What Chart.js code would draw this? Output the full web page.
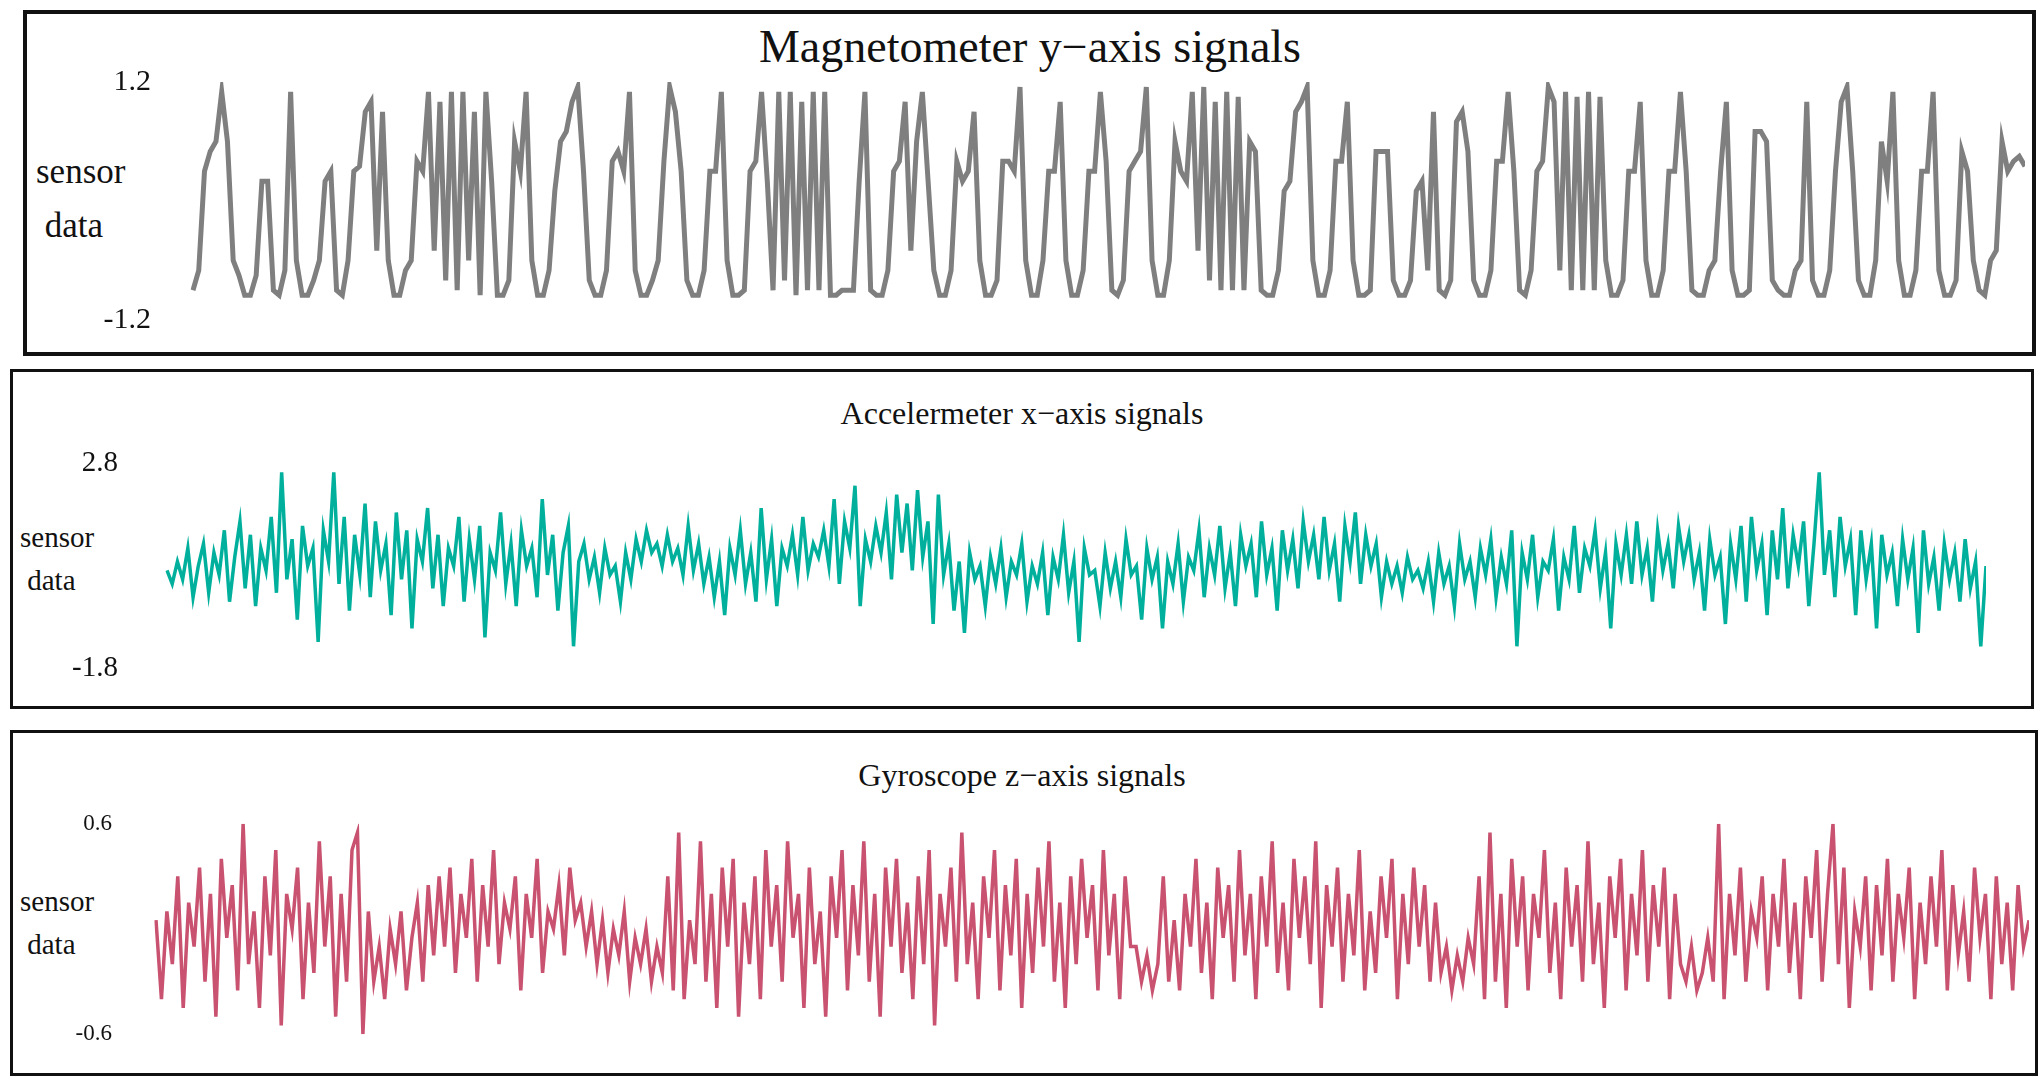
<!DOCTYPE html>
<html>
<head>
<meta charset="utf-8">
<script src="https://cdn.jsdelivr.net/npm/chart.js@4/dist/chart.umd.min.js"></script>
<style>
  body { margin: 0; background: #fff; font-family: 'Liberation Serif', serif; }
  .box { position: absolute; border: 3px solid #111; box-sizing: border-box; }
  .txt { position: absolute; color: #111; white-space: nowrap; }
  .wrap { position: absolute; }
</style>
</head>
<body>
<div class="box" style="left:23px;top:10px;width:2013px;height:346px;border-width:4px"></div>
<div class="box" style="left:10px;top:369px;width:2024px;height:340px"></div>
<div class="box" style="left:10px;top:730px;width:2028px;height:346px"></div>

<div class="txt" style="left:0;width:2060px;text-align:center;top:20px;font-size:46px">Magnetometer y&minus;axis signals</div>
<div class="txt" style="left:0;width:2044px;text-align:center;top:395px;font-size:32px">Accelermeter x&minus;axis signals</div>
<div class="txt" style="left:0;width:2044px;text-align:center;top:757px;font-size:32px">Gyroscope z&minus;axis signals</div>

<div class="txt" style="left:36px;top:145px;font-size:35px;line-height:54px">sensor<br>&nbsp;data</div>
<div class="txt" style="left:20px;top:516px;font-size:29px;line-height:43px">sensor<br>&nbsp;data</div>
<div class="txt" style="left:20px;top:880px;font-size:29px;line-height:43px">sensor<br>&nbsp;data</div>

<div class="wrap" style="left:10px;top:30px;width:2015px;height:342px"><canvas id="c1"></canvas></div>
<div class="wrap" style="left:10px;top:405px;width:1976px;height:322px"><canvas id="c2"></canvas></div>
<div class="wrap" style="left:10px;top:774px;width:2019px;height:310px"><canvas id="c3"></canvas></div>

<script>
// magnetometer y-axis (pulse train)
const magValues = [
-0.9,-0.7,0.3,0.5,0.6,1.1,0.6,-0.6,-0.75,-0.95,-0.95,-0.75,0.2,0.2,-0.9,-0.95,
-0.7,1.1,-0.6,-0.95,-0.95,-0.8,-0.6,0.2,0.3,-0.9,-0.95,-0.6,0.3,0.35,0.9,1.0,-0.5,0.9,-0.6,-0.95,-0.95,
-0.7,-0.6,0.4,0.3,1.1,-0.5,1.0,-0.8,1.1,-0.9,1.1,-0.6,0.9,-0.95,1.1,0.2,-0.95,-0.95,
-0.8,0.6,0.3,1.1,-0.6,-0.95,-0.95,-0.7,0.1,0.6,0.7,1.0,1.15,0.3,-0.8,-0.95,-0.95,
-0.7,0.4,0.5,0.3,1.1,-0.7,-0.95,-0.95,-0.8,-0.6,0.4,1.15,0.9,0.3,-0.8,-0.95,-0.95,
-0.7,0.3,0.3,1.1,-0.6,-0.95,-0.95,-0.9,0.3,0.4,1.1,0.2,-0.9,1.1,-0.8,1.1,-0.95,1.0,-0.9,1.1,-0.9,1.1,-0.95,-0.95,
-0.9,-0.9,-0.9,0.2,1.1,-0.9,-0.95,-0.95,-0.7,0.3,0.4,1.0,-0.5,0.6,1.1,0.2,-0.7,-0.95,-0.95,
-0.7,0.4,0.2,0.3,0.9,-0.6,-0.95,-0.95,-0.8,0.4,0.4,0.3,1.15,-0.6,-0.95,-0.95,
-0.6,0.3,0.3,1.0,-0.6,-0.95,-0.95,-0.7,0.3,0.3,1.1,0.4,-0.9,-0.95,-0.8,0.3,0.4,0.5,1.15,-0.6,-0.95,-0.95,
-0.6,0.6,0.3,0.2,1.1,-0.5,1.15,-0.8,1.0,-0.9,1.1,-0.9,1.05,-0.9,0.6,0.5,-0.9,-0.95,-0.95,
-0.7,0.1,0.2,0.9,1.0,1.15,-0.6,-0.95,-0.95,-0.7,0.4,0.4,1.0,-0.6,-0.95,-0.95,-0.9,0.5,0.5,0.5,-0.8,-0.95,
-0.95,-0.8,0.1,0.2,-0.7,0.9,-0.9,-0.95,-0.8,0.8,0.9,0.5,-0.8,-0.95,-0.95,-0.7,0.4,0.4,1.1,0.3,-0.9,-0.95,
-0.7,0.3,0.4,1.15,1.0,-0.7,1.1,-0.9,1.05,-0.9,1.1,-0.9,1.05,-0.6,-0.95,-0.95,-0.8,0.3,0.3,1.0,-0.6,-0.95,
-0.95,-0.7,0.3,0.3,1.1,0.3,-0.9,-0.95,-0.95,-0.7,-0.6,0.3,1.0,-0.7,-0.95,-0.95,-0.9,0.7,0.7,0.6,-0.8,
-0.9,-0.95,-0.95,-0.7,-0.6,1.0,-0.8,-0.95,-0.95,-0.7,0.3,1.0,1.15,0.3,-0.8,-0.95,-0.95,-0.6,0.6,0.2,1.1,
-0.6,-0.95,-0.95,-0.7,0.3,0.3,1.1,-0.7,-0.95,-0.95,-0.8,0.5,0.3,-0.6,-0.9,-0.95,-0.6,-0.5,0.6,0.3,0.4,0.45,0.35
];

// accelerometer x-axis
const accValues = [
0.4,0.1,0.6,0.2,0.9,-0.2,0.5,1.0,-0.1,0.8,0.3,1.3,-0.3,0.7,1.5,0.0,1.2,-0.4,0.9,0.4,
1.6,-0.1,2.6,0.2,1.1,-0.7,1.4,0.5,0.9,-1.2,1.3,0.6,2.6,0.1,1.6,-0.5,1.2,0.3,1.9,-0.2,
1.5,0.4,1.0,-0.6,1.7,0.2,1.3,-0.9,1.1,0.6,1.8,0.0,1.2,-0.4,0.9,0.5,1.6,-0.3,1.1,0.2,
1.4,-1.1,0.8,0.4,1.7,0.1,1.0,-0.4,1.3,0.5,0.9,-0.2,2.0,0.3,1.2,-0.5,0.8,1.4,-1.3,0.6,
1.0,0.2,0.7,-0.1,0.9,0.3,0.5,-0.3,0.8,0.2,1.1,0.6,1.3,0.8,1.0,0.5,1.2,0.6,0.9,0.3,
1.4,0.4,1.0,0.1,0.7,-0.2,0.6,-0.6,0.9,0.3,1.3,0.1,0.8,-0.3,1.8,0.2,1.1,-0.4,0.9,0.5,
1.2,0.3,1.6,0.4,1.0,0.7,1.3,0.5,2.0,0.1,1.5,0.9,2.3,-0.4,1.1,0.6,1.4,0.8,1.7,0.2,
2.1,0.8,1.9,0.4,2.2,0.7,1.5,-0.8,2.1,0.3,1.0,-0.5,0.6,-1.0,0.8,0.2,0.5,-0.4,0.7,0.1,
0.9,-0.2,0.6,0.3,1.0,-0.3,0.5,0.1,0.8,-0.6,0.7,0.2,1.2,-0.1,0.6,-1.2,0.9,0.3,0.4,-0.4,
0.8,0.0,0.6,-0.2,1.1,0.3,0.5,-0.7,0.9,0.2,0.7,-0.9,0.6,0.1,1.0,-0.3,0.7,0.4,1.3,-0.2,
0.9,0.3,1.4,0.0,0.8,-0.4,1.2,0.5,1.0,-0.2,1.5,0.3,0.9,-0.5,1.3,0.4,1.1,0.0,1.5,0.6,
1.2,0.2,1.6,0.4,1.0,-0.3,1.4,0.6,1.7,0.1,1.2,0.5,1.0,-0.2,0.6,0.1,0.5,-0.1,0.7,0.2,
0.4,0.0,0.6,-0.3,0.8,0.1,0.5,-0.4,1.0,0.2,0.6,-0.2,0.9,0.3,1.1,-0.2,0.7,0.1,1.3,-1.3,
0.8,0.2,1.2,-0.2,0.6,0.4,1.1,-0.5,0.7,0.2,1.4,-0.1,0.9,0.5,1.3,0.0,0.8,-0.9,1.0,0.3,
1.2,0.1,1.5,0.3,0.9,-0.3,1.3,0.4,1.0,0.0,1.4,0.6,1.2,0.2,0.8,-0.5,1.1,0.3,0.7,-0.8,
1.0,0.2,1.4,-0.3,1.6,0.4,1.0,-0.6,1.3,0.2,1.8,0.0,1.2,0.5,1.5,-0.4,1.0,2.6,0.3,1.3,
-0.2,1.6,0.5,1.1,-0.6,1.3,0.2,1.0,-0.9,1.2,0.3,0.8,-0.4,1.1,0.2,0.9,-1.0,1.3,0.1,0.7,
-0.5,1.0,0.2,0.8,-0.3,1.1,0.0,0.6,-1.3,0.5
];

// gyroscope z-axis
const gyroValues = [
0.05,-0.4,0.1,-0.2,0.3,-0.45,0.15,-0.1,0.35,-0.3,0.2,-0.5,0.4,-0.05,0.25,-0.35,0.6,-0.2,0.1,-0.45,
0.3,-0.15,0.45,-0.55,0.2,0.0,0.35,-0.4,0.15,-0.25,0.5,-0.1,0.3,-0.5,0.2,-0.3,0.45,0.55,-0.6,0.1,
-0.3,-0.1,-0.4,0.0,-0.2,0.1,-0.35,-0.05,0.15,-0.3,0.25,-0.15,0.3,-0.1,0.35,-0.25,0.2,-0.05,0.4,-0.3,
0.25,-0.1,0.45,-0.2,0.15,0.0,0.3,-0.35,0.2,-0.05,0.4,-0.25,0.1,0.0,0.25,-0.15,0.35,0.05,0.15,-0.1,
0.1,-0.2,0.05,-0.25,0.0,-0.15,0.1,-0.3,-0.05,-0.2,0.0,-0.3,-0.1,-0.25,0.3,-0.35,0.55,-0.4,0.05,-0.2,
0.5,-0.3,0.2,-0.45,0.35,-0.1,0.4,-0.5,0.15,-0.2,0.3,-0.4,0.45,-0.1,0.25,-0.3,0.5,-0.05,0.2,-0.45,
0.35,-0.2,0.1,-0.5,0.3,-0.05,0.45,-0.35,0.25,-0.15,0.5,-0.3,0.2,-0.5,0.35,-0.1,0.4,-0.25,0.15,-0.4,
0.3,-0.2,0.45,-0.55,0.2,-0.1,0.35,-0.3,0.55,-0.2,0.15,-0.4,0.3,-0.05,0.45,-0.35,0.25,-0.15,0.4,-0.45,
0.2,-0.25,0.35,-0.1,0.5,-0.3,0.15,-0.45,0.3,-0.2,0.4,-0.05,0.25,-0.35,0.45,-0.15,0.2,-0.4,0.3,-0.1,
-0.1,-0.3,-0.15,-0.35,-0.2,0.3,-0.3,0.05,-0.35,0.2,-0.1,0.4,-0.25,0.15,-0.4,0.35,-0.05,0.25,-0.3,0.45,
-0.15,0.2,-0.4,0.3,-0.1,0.5,-0.25,0.15,-0.35,0.4,-0.05,0.3,-0.2,0.5,-0.45,0.25,-0.1,0.35,-0.3,0.2,
-0.15,0.45,-0.35,0.1,-0.25,0.3,-0.05,0.4,-0.4,0.2,-0.2,0.35,-0.1,0.25,-0.3,0.15,-0.25,-0.1,-0.35,-0.15,
-0.3,-0.05,-0.2,0.3,-0.4,0.55,-0.3,0.2,-0.45,0.4,-0.1,0.3,-0.35,0.2,-0.05,0.45,-0.25,0.15,-0.4,0.35,
-0.1,0.25,-0.3,0.5,-0.2,0.15,-0.45,0.3,-0.05,0.4,-0.35,0.2,-0.15,0.45,-0.3,0.25,-0.1,0.35,-0.4,0.2,
-0.2,-0.3,-0.1,-0.35,-0.25,-0.05,-0.3,0.6,-0.4,0.2,-0.15,0.35,-0.3,0.1,-0.05,0.3,-0.35,0.2,-0.1,0.4,
-0.25,0.15,-0.4,0.3,-0.05,0.45,-0.3,0.2,0.6,-0.2,0.35,-0.45,0.1,-0.1,0.3,-0.35,0.25,-0.15,0.4,-0.3,
0.2,-0.05,0.35,-0.4,0.15,-0.2,0.3,-0.1,0.45,-0.35,0.25,-0.15,0.1,-0.3,0.35,-0.05,0.2,-0.4,0.3,-0.2,
0.15,-0.35,0.25,-0.1,0.05
];

function panel(id, values, min, max, color, lw, tickPad, axisW, fontSize) {
  new Chart(document.getElementById(id), {
    type: 'line',
    data: {
      labels: values.map((v, i) => i),
      datasets: [{ data: values, borderColor: color, borderWidth: lw, pointRadius: 0, tension: 0, fill: false }]
    },
    options: {
      responsive: true,
      maintainAspectRatio: false,
      animation: false,
      layout: { padding: 0 },
      plugins: { legend: { display: false }, tooltip: { enabled: false } },
      scales: {
        x: { display: false },
        y: {
          min: min, max: max,
          grid: { display: false }, border: { display: false },
          afterBuildTicks: (s) => { s.ticks = [{ value: min }, { value: max }]; },
          afterFit: (s) => { s.width = axisW; },
          ticks: {
            padding: tickPad, color: '#111',
            font: { family: 'Liberation Serif', size: fontSize },
            callback: (v) => v.toFixed(1)
          }
        }
      }
    }
  });
}

panel('c1', magValues, -1.2, 1.2, '#7f7f7f', 5, 34, 183, 30);
panel('c2', accValues, -1.8, 2.8, '#00b09c', 3.5, 41, 157, 29);
panel('c3', gyroValues, -0.6, 0.6, '#c8526f', 3.5, 36, 146, 23);
</script>
</body>
</html>
